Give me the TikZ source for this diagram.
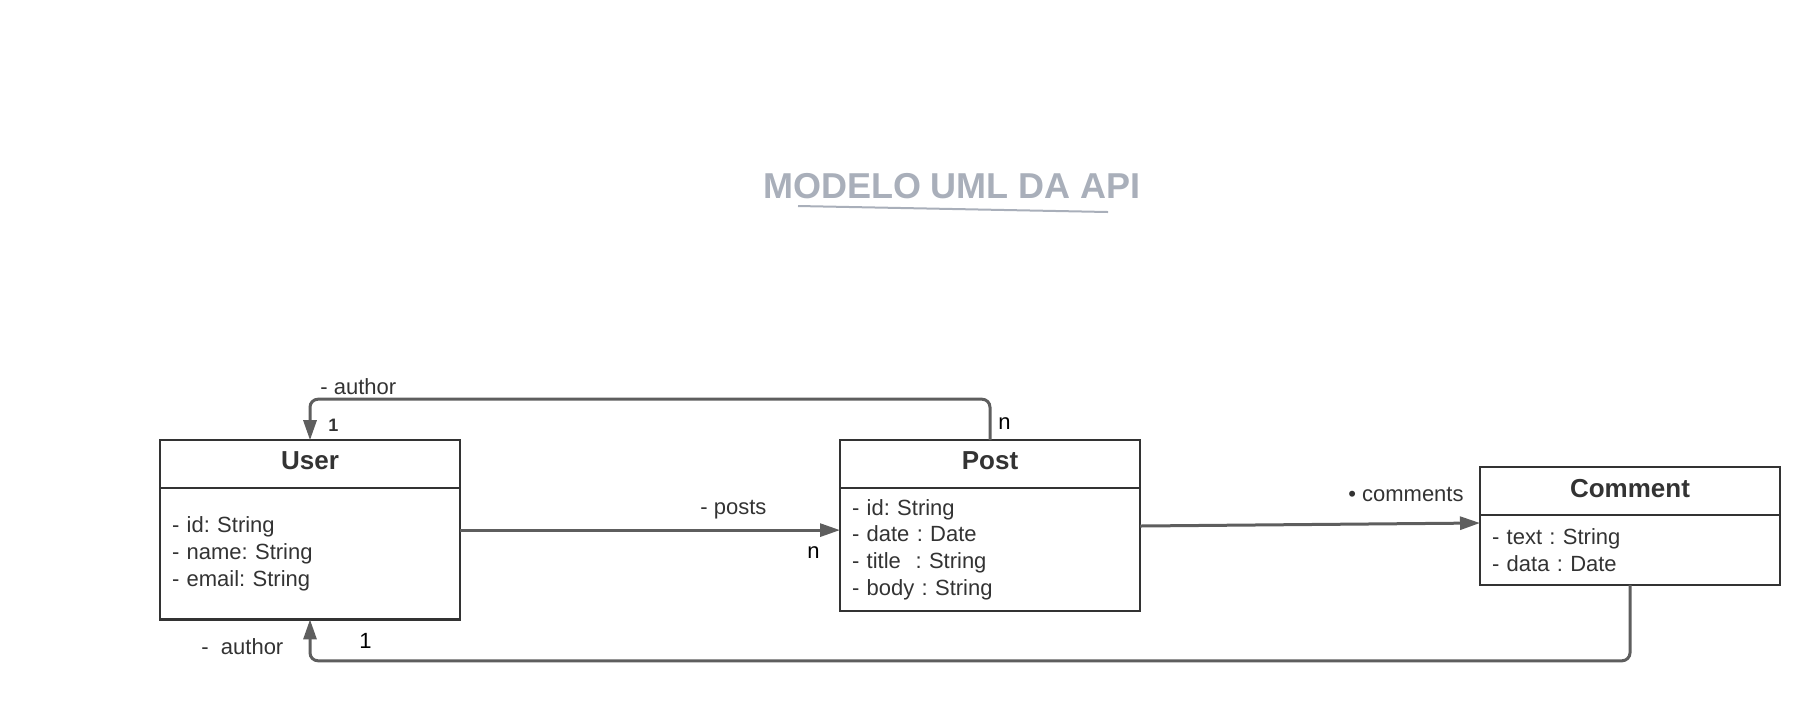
\documentclass[tikz,border=0pt]{standalone}
\usepackage{fontspec}
\setmainfont{Liberation Sans}
\usetikzlibrary{positioning,arrows.meta,calc}
\definecolor{boxline}{HTML}{333333}
\definecolor{linkgray}{HTML}{5E5E5E}
\definecolor{titlegray}{HTML}{A9AFBA}
\frenchspacing
\begin{document}
\begin{tikzpicture}[
    x=0.5pt, y=-0.5pt,
    head/.style={rectangle, draw=boxline, line width=1.1pt, outer sep=0pt, minimum width=150pt, minimum height=23.8pt, text depth=3pt, font=\bfseries\fontsize{13}{15}\selectfont, text=boxline},
    attrs/.style={rectangle, draw=boxline, line width=1.1pt, outer sep=0pt, minimum width=150pt, text width=138pt, inner xsep=6pt, align=left, font=\fontsize{11}{13.35}\selectfont, text=boxline},
    assoc/.style={-{Triangle[length=10pt,width=6.5pt]}, line width=1.5pt, draw=linkgray, rounded corners=4pt},
    lbl/.style={inner sep=0pt, font=\fontsize{11}{13}\selectfont, text=boxline},
    mult/.style={inner sep=0pt, font=\fontsize{11}{13}\selectfont, text=black}
]
    \useasboundingbox (0,0) rectangle (1820,720);

    % Title
    \node[anchor=base, font=\bfseries\fontsize{18}{20}\selectfont, text=titlegray] (title) at (952,198) {MODELO UML DA API};
    \draw[titlegray, line width=1pt] (798,206) -- (1108,212);

    % Classes
    \node[head] (userhead) at (310,464) {User};
    \node[attrs, minimum height=65.8pt, below=0pt of userhead] (userbody) {- id: String\\- name: String\\- email: String};
    \node[head, right=190pt of userhead] (posthead) {Post};
    \node[attrs, minimum height=61.7pt, below=0pt of posthead] (postbody) {- id: String\\- date : Date\\- title\ \ : String\\- body : String};
    \node[head, right=170pt of posthead, yshift=-13.5pt] (commenthead) {Comment};
    \node[attrs, minimum height=35pt, below=0pt of commenthead] (commentbody) {- text : String\\- data : Date};

    % Associations
    \draw[assoc] (posthead.north) -- ++(0,-41) -| (userhead.north);
    \draw[assoc] ([yshift=11.75pt]userbody.east) -- ([yshift=11.75pt]userbody.east -| postbody.west);
    \draw[assoc] ([yshift=11.75pt]postbody.east) -- ([yshift=13.4pt]commentbody.west);
    \draw[assoc] (commentbody.south) -- ++(0,76) -| (userbody.south);

    % Roles and multiplicities
    \node[lbl, anchor=base west] (authortop) at (320,394) {- author};
    \node[anchor=base west, inner sep=0pt, font=\bfseries\fontsize{9}{11}\selectfont, text=boxline] (onetop) at (328,431) {1};
    \node[mult, anchor=base west] (ntop) at (998,429) {n};
    \node[lbl, anchor=base west] (posts) at (700,514) {- posts};
    \node[mult, anchor=base west] (nposts) at (807,558) {n};
    \node[lbl, anchor=base east] (comments) at (1464,501) {\textbullet\ comments};
    \node[lbl, anchor=base west] (authorbot) at (201,654) {-\ \ author};
    \node[mult, anchor=base west] (onebot) at (359,648) {1};
\end{tikzpicture}
\end{document}
